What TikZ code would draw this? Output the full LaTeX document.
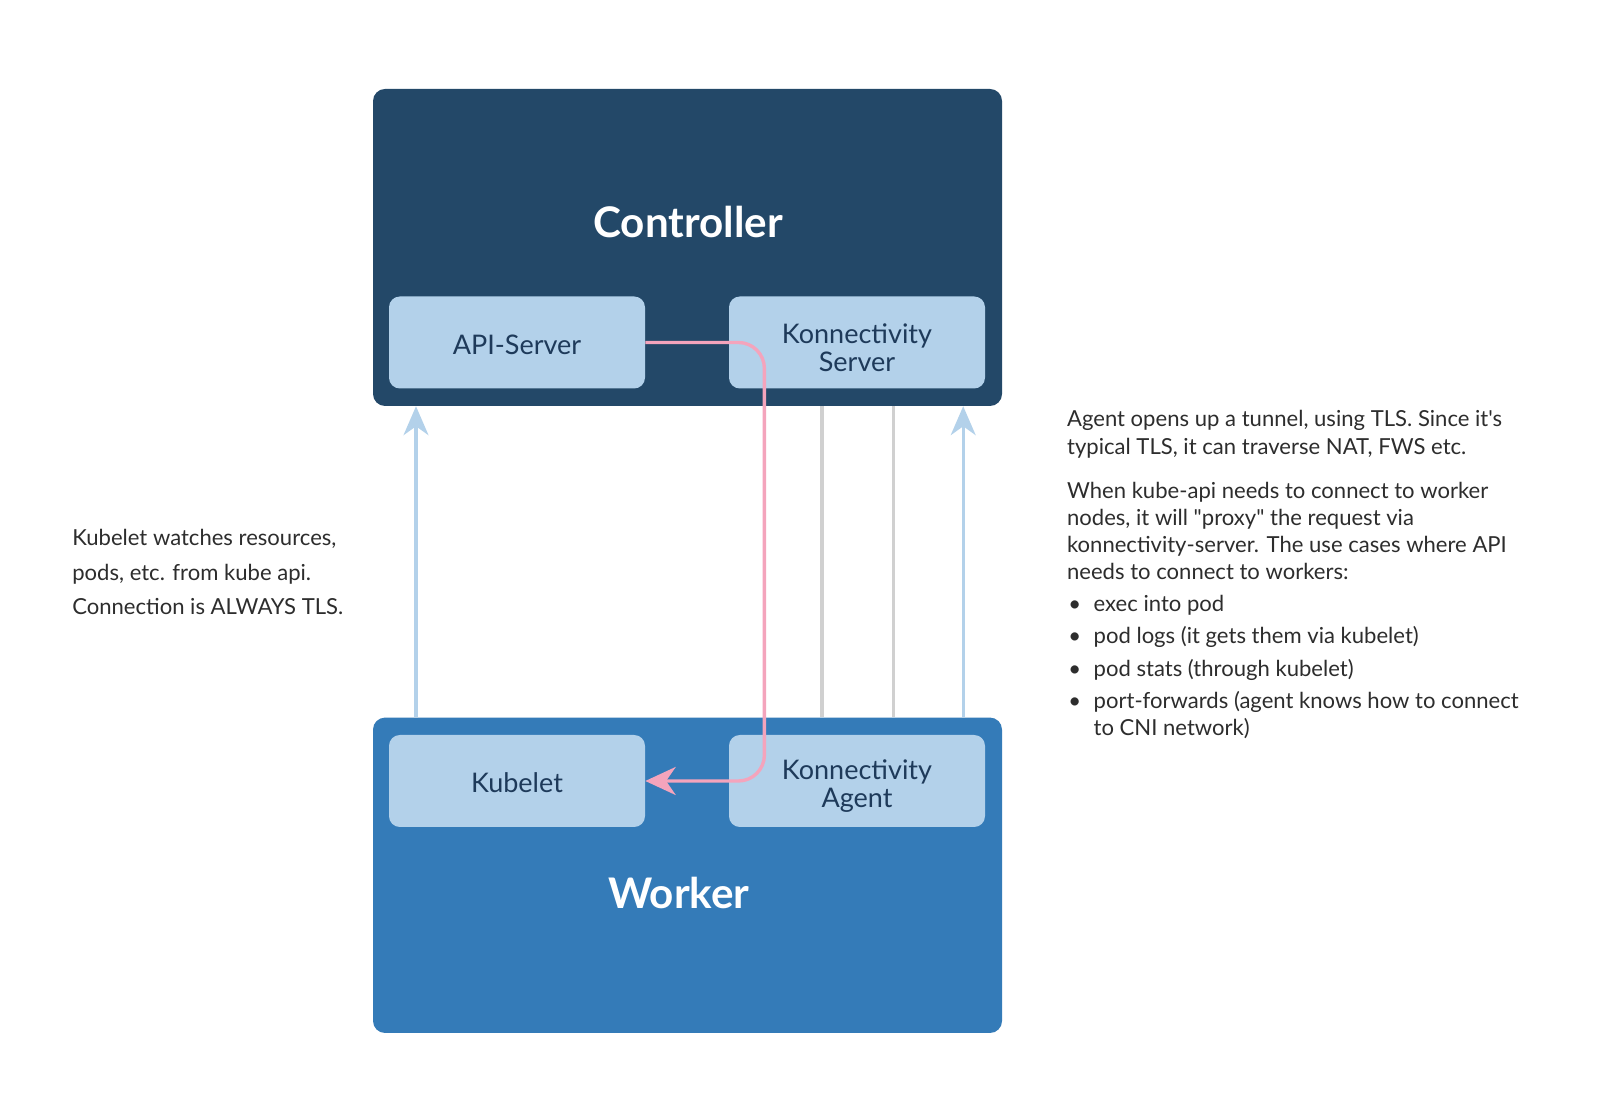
\documentclass[tikz,border=0pt]{standalone}
\usepackage{fontspec}
\setmainfont{Lato}[Ligatures=TeXOff]
\usetikzlibrary{arrows.meta}
\definecolor{ctrlblue}{RGB}{35,72,104}
\definecolor{workblue}{RGB}{52,123,184}
\definecolor{paleblue}{RGB}{179,209,234}
\definecolor{boxtext}{RGB}{30,58,90}
\definecolor{linkpink}{RGB}{244,164,188}
\definecolor{linkgrey}{RGB}{208,208,208}
\definecolor{notegrey}{RGB}{45,45,45}

\begin{document}
\begin{tikzpicture}[>={Stealth[length=0.72cm,width=0.62cm,inset=0.22cm]},
  outer box/.style={rounded corners=0.3cm,minimum width=15.725cm},
  inner box/.style={rounded corners=0.27cm,fill=paleblue,text=boxtext,minimum width=6.4cm,
    minimum height=2.3cm,align=center,font=\fontsize{19.2}{19.5}\selectfont},
  title/.style={text=white,anchor=base,font=\fontsize{30}{32}\selectfont\bfseries},
  note/.style={text=notegrey,align=left,anchor=north west,inner sep=0pt},
  up link/.style={->,draw=paleblue,line width=2.4pt},
  grey link/.style={draw=linkgrey,line width=2.4pt},
  pink link/.style={-{Stealth[length=0.76cm,width=0.7cm,inset=0.24cm]},draw=linkpink,
    line width=2.4pt,rounded corners=0.65cm}]

    \fill[white] (0, 0) rectangle (40, 28);
    \useasboundingbox (0, 0) rectangle (40, 28);

    \node[outer box, fill=ctrlblue, minimum height=7.925cm] (ctrl) at (17.1875, 21.8125) {};
    \node[outer box, fill=workblue, minimum height=7.885cm] (worker) at (17.1875, 6.1175) {};

    \node[title] (ctrllabel) at (17.2, 22.05) {Controller};
    \node[title] (worklabel) at (16.97, 5.28) {Worker};

    \node[inner box] (api) at (12.925, 19.4375) {\rule{0pt}{0.6cm}API-Server};
    \node[inner box] (ksrv) at (21.425, 19.4375) {\rule{0pt}{0.75cm}Konnectivity\\Server};
    \node[inner box] (kubelet) at (12.925, 8.475) {\rule{0pt}{0.6cm}Kubelet};
    \node[inner box] (kagent) at (21.425, 8.475) {\rule{0pt}{0.75cm}Konnectivity\\Agent};

    \coordinate (up1) at (10.4, 0 |- worker.north);
    \coordinate (up2) at (24.08, 0 |- worker.north);
    \coordinate (grey1) at (20.55, 0 |- worker.north);
    \coordinate (grey2) at (22.33, 0 |- worker.north);

    \draw[up link] (up1) -- (up1 |- ctrl.south);
    \draw[up link] (up2) -- (up2 |- ctrl.south);
    \draw[grey link] (grey1) -- (grey1 |- ctrl.south);
    \draw[grey link] (grey2) -- (grey2 |- ctrl.south);

    \draw[pink link] (api.east) -- (19.11, 0 |- api.east) -- (19.11, 0 |- kubelet.east) -- (kubelet.east);

    \node[note, font=\fontsize{15.7}{24.6}\selectfont] (kubenote) at (1.8, 14.77)
      {Kubelet watches resources,\\pods, etc. from kube api.\\Connection is ALWAYS TLS.};

    \node[note, font=\fontsize{15.7}{19.3}\selectfont] (agentnote) at (26.67, 17.74)
      {Agent opens up a tunnel, using TLS. Since it's\\
       typical TLS, it can traverse NAT, FWS etc.\\[12.3pt]
       When kube-api needs to connect to worker\\
       nodes, it will "proxy" the request via\\
       konnectivity-server. The use cases where API\\
       needs to connect to workers:\\[3.4pt]
       \makebox[18.9pt][l]{\hspace{1pt}\textbullet}exec into pod\\[3.6pt]
       \makebox[18.9pt][l]{\hspace{1pt}\textbullet}pod logs (it gets them via kubelet)\\[3.6pt]
       \makebox[18.9pt][l]{\hspace{1pt}\textbullet}pod stats (through kubelet)\\[3.6pt]
       \makebox[18.9pt][l]{\hspace{1pt}\textbullet}port-forwards (agent knows how to connect\\
       \hspace*{18.9pt}to CNI network)};
\end{tikzpicture}
\end{document}
